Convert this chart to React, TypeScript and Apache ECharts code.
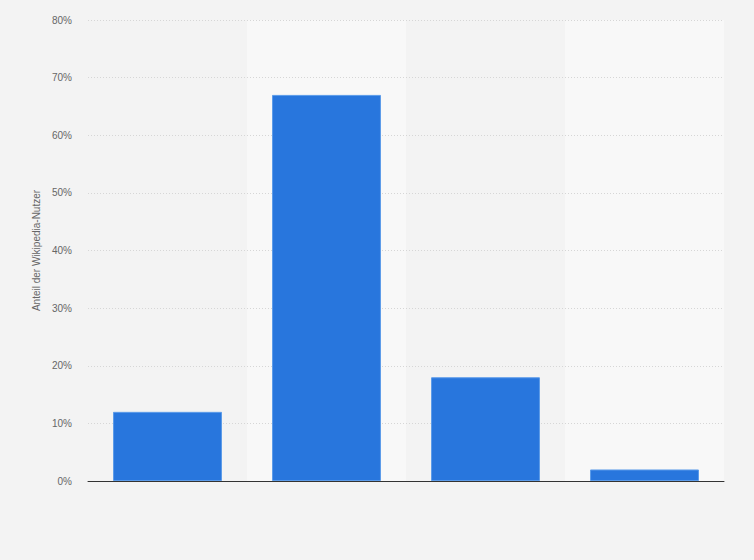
import React, { useEffect, useRef } from "react";
import * as echarts from "echarts";

const categories = ["Kategorie 1", "Kategorie 2", "Kategorie 3", "Kategorie 4"];
const values = [12, 67, 18, 2];
const yTicks = [0, 10, 20, 30, 40, 50, 60, 70, 80];
const yAxisTitle = "Anteil der Wikipedia-Nutzer";

export default function App() {
  const ref = useRef<HTMLDivElement>(null);
  useEffect(() => {
    document.body.style.margin = "0";
    const chart = echarts.init(ref.current!, undefined, { renderer: "svg" });
    chart.setOption({
      animation: false,
      backgroundColor: "#f3f3f3",
      textStyle: { fontFamily: "'Liberation Sans', 'DejaVu Sans', sans-serif" },
      grid: { left: 88, right: 30, top: 20, bottom: 79, containLabel: false },
      xAxis: [
        {
          type: "category",
          z: 0,
          data: categories,
          axisLine: { show: false },
          axisTick: { show: false },
          axisLabel: { show: false },
          splitArea: {
            show: true,
            areaStyle: { color: ["rgba(0,0,0,0)", "#f8f8f8"] },
          },
        },
        {
          type: "category",
          z: 5,
          position: "bottom",
          data: categories,
          axisLine: { show: true, lineStyle: { color: "#333333", width: 1 } },
          axisTick: { show: false },
          axisLabel: { show: false },
          splitArea: { show: false },
          splitLine: { show: false },
        },
      ],
      yAxis: {
        type: "value",
        z: 1,
        min: yTicks[0],
        max: yTicks[yTicks.length - 1],
        interval: 10,
        name: yAxisTitle,
        nameLocation: "middle",
        nameGap: 45,
        nameTextStyle: { color: "#666666", fontSize: 10 },
        axisLine: { show: false },
        axisTick: { show: false },
        axisLabel: {
          color: "#666666",
          fontSize: 10,
          margin: 16,
          formatter: (v: number) => `${v}%`,
        },
        splitLine: {
          show: true,
          lineStyle: { color: "#d6d6d6", type: [1, 2], width: 1 },
        },
      },
      series: [
        {
          type: "bar",
          z: 2,
          xAxisIndex: 0,
          data: values,
          barWidth: "68.5%",
          itemStyle: {
            color: "#2876dd",
            borderColor: "#5b9be9",
            borderWidth: 1,
          },
        },
      ],
    });
    return () => chart.dispose();
  }, []);
  return <div ref={ref} style={{ width: 754, height: 560 }} />;
}
